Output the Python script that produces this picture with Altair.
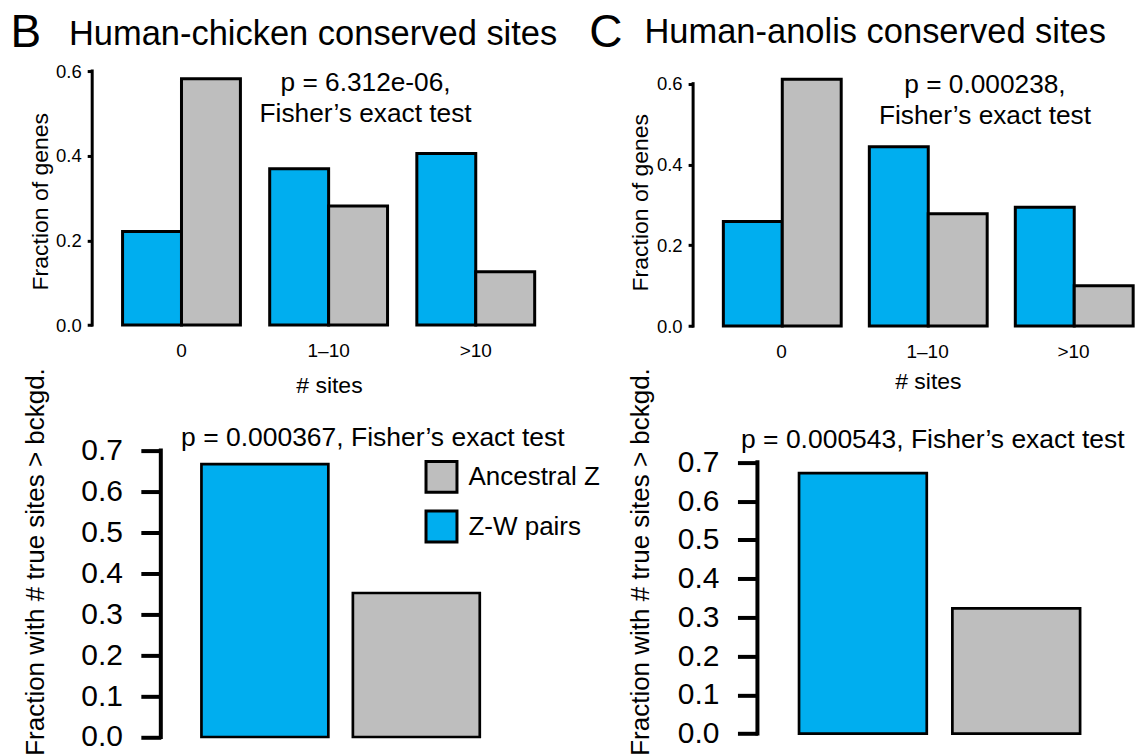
import altair as alt
import pandas as pd

# ---------------- data ----------------
categories = ["0", "1–10", ">10"]
groups = ["Z-W pairs", "Ancestral Z"]
legend_order = ["Ancestral Z", "Z-W pairs"]

chicken_zw = [0.221, 0.369, 0.405]
chicken_anc = [0.582, 0.281, 0.126]
anolis_zw = [0.259, 0.444, 0.294]
anolis_anc = [0.611, 0.278, 0.100]

chicken_bg = [0.667, 0.352]   # Z-W pairs, Ancestral Z
anolis_bg = [0.672, 0.323]

top_ticks = [0.0, 0.2, 0.4, 0.6]
bottom_ticks = [0.0, 0.1, 0.2, 0.3, 0.4, 0.5, 0.6, 0.7]

p_chicken_top = ["p = 6.312e-06,", "Fisher\u2019s exact test"]
p_anolis_top = ["p = 0.000238,", "Fisher\u2019s exact test"]
p_chicken_bottom = "p = 0.000367, Fisher\u2019s exact test"
p_anolis_bottom = "p = 0.000543, Fisher\u2019s exact test"

BLUE = "#00AEEF"
GRAY = "#BEBEBE"
FONT = "Liberation Sans"

color_scale = alt.Scale(domain=legend_order, range=[GRAY, BLUE])
legend_def = alt.Legend(
    title=None, orient="none", legendX=332.7, legendY=389.3,
    symbolType="square", symbolSize=961, symbolStrokeColor="black",
    symbolStrokeWidth=3, symbolOpacity=1, labelFontSize=26, labelOffset=10,
    rowPadding=5.7, padding=0, labelColor="black", labelFont=FONT,
)


def one():
    return alt.Data(values=[{}])


def label_text(x, y, text, size, align="left", line_height=None):
    kw = dict(align=align, baseline="alphabetic", fontSize=size, color="black", font=FONT)
    if line_height is not None:
        kw["lineHeight"] = line_height
    return alt.Chart(one()).mark_text(**kw).encode(
        x=alt.value(x), y=alt.value(y), text=alt.value(text)
    )


def top_panel(zw, anc, width, height, ymax, pad_in, pad_out, align,
              ytitle_x, ytitle_y, xtitle_x, xtitle_y,
              letter, letter_x, letter_y, title, title_x, title_y,
              ptext, p_x, p_y):
    df = pd.DataFrame({
        "sites": categories * 2,
        "group": [groups[0]] * 3 + [groups[1]] * 3,
        "value": zw + anc,
    })
    bars = alt.Chart(df).mark_bar(stroke="black", strokeWidth=3).encode(
        x=alt.X("sites:N", sort=categories,
                scale=alt.Scale(domain=categories, paddingInner=pad_in,
                                paddingOuter=pad_out, align=align),
                axis=alt.Axis(title="# sites", labelAngle=0, ticks=False, tickSize=0,
                              domain=False, labelFontSize=19, labelPadding=31.5,
                              labelBaseline="alphabetic", titleFontSize=23,
                              titleFontWeight="normal", titleX=xtitle_x, titleY=xtitle_y,
                              titleBaseline="alphabetic", titleAlign="center")),
        xOffset=alt.XOffset("group:N", sort=groups,
                            scale=alt.Scale(domain=groups, paddingInner=0, paddingOuter=0)),
        y=alt.Y("value:Q", scale=alt.Scale(domain=[0, ymax], nice=False, zero=True),
                axis=alt.Axis(values=top_ticks, format=".1f", title="Fraction of genes",
                              domain=False, grid=False, tickSize=5, tickWidth=3,
                              tickColor="black", labelFontSize=18.5, labelPadding=6,
                              titleFontSize=23, titleFontWeight="normal",
                              titleX=ytitle_x, titleY=ytitle_y, titleAngle=270,
                              titleBaseline="alphabetic", titleAlign="center")),
        color=alt.Color("group:N", scale=color_scale, legend=legend_def),
    )
    axis_line = alt.Chart(one()).mark_rule(color="black", strokeWidth=3, strokeCap="square").encode(
        x=alt.value(0), y=alt.datum(0.0), y2=alt.datum(0.6)
    )
    return alt.layer(
        bars, axis_line,
        label_text(letter_x, letter_y, letter, 46),
        label_text(title_x, title_y, title, 34.5),
        label_text(p_x, p_y, ptext, 26.3, align="center", line_height=30.5),
    ).properties(width=width, height=height)


def bottom_panel(vals, width, height, ymax, pad_in, pad_out, align, axis_x,
                 ytitle_x, ytitle_y, ptext, p_x, p_y):
    df = pd.DataFrame({"group": groups, "value": vals})
    bars = alt.Chart(df).mark_bar(stroke="black", strokeWidth=2.7).encode(
        x=alt.X("group:N", sort=groups,
                scale=alt.Scale(domain=groups, paddingInner=pad_in,
                                paddingOuter=pad_out, align=align),
                axis=None),
        y=alt.Y("value:Q", scale=alt.Scale(domain=[0, ymax], nice=False, zero=True),
                axis=alt.Axis(values=bottom_ticks, format=".1f",
                              title="Fraction with # true sites > bckgd.",
                              offset=-axis_x, domain=False, grid=False, tickSize=20,
                              tickWidth=4, tickColor="black", labelFontSize=30,
                              labelPadding=18.5, titleFontSize=26, titleFontWeight="normal",
                              titleX=ytitle_x, titleY=ytitle_y, titleAngle=270,
                              titleBaseline="alphabetic", titleAlign="center")),
        color=alt.Color("group:N", scale=color_scale, legend=legend_def),
    )
    axis_line = alt.Chart(one()).mark_rule(color="black", strokeWidth=4, strokeCap="square").encode(
        x=alt.value(axis_x), y=alt.datum(0.0), y2=alt.datum(0.7)
    )
    return alt.layer(
        bars, axis_line,
        label_text(p_x, p_y, ptext, 26.5),
    ).properties(width=width, height=height)


b_top = top_panel(chicken_zw, chicken_anc, 473.4, 254.3, 0.6, 0.199, 0.2064, 0.5,
                  -44.8, 130.3, 237, 68,
                  "B", -81.7, -23.7, "Human-chicken conserved sites", -23.3, -25.7,
                  p_chicken_top, 273.7, 20.3)
c_top = top_panel(anolis_zw, anolis_anc, 439.2, 255.3, 0.6312, 0.202, 0.1036, 1.0,
                  -46.0, 131.3, 235, 63,
                  "C", -103.9, -23.7, "Human-anolis conserved sites", -48.7, -27.7,
                  p_anolis_top, 292.2, 22.3)
b_bot = bottom_panel(chicken_bg, 473.4, 286.7, 0.7, 0.162, 0.6423, 0.5616, 68.7,
                     -117.0, 111.0, p_chicken_bottom, 89.0, -4.5)
c_bot = bottom_panel(anolis_bg, 439.2, 283.3, 0.7302, 0.167, 0.514, 0.672, 64.4,
                     -108.7, 111.0, p_anolis_bottom, 48.0, -2.7)

chart = alt.concat(
    b_top, c_top, b_bot, c_bot,
    columns=2, bounds="flush", align="each",
    spacing={"row": 124, "column": 127.6},
).properties(
    padding={"left": 10.3, "top": 9.7, "right": 0, "bottom": 0}
).configure(
    font=FONT
).configure_view(
    strokeWidth=0
).configure_axis(
    labelColor="black", titleColor="black", labelFont=FONT, titleFont=FONT
)

chart.save("out.html", embed_options={"renderer": "svg", "actions": False})
